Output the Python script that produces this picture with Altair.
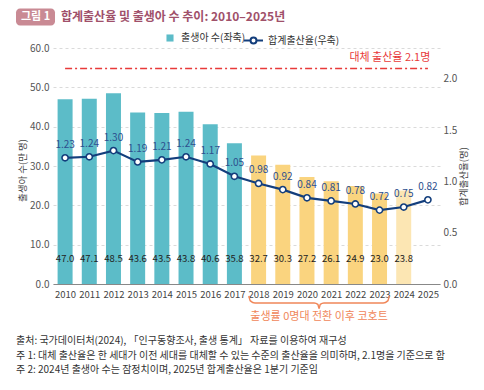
import altair as alt
import pandas as pd

# ---- data ----
years = list(range(2010, 2026))
births = [47.0, 47.1, 48.5, 43.6, 43.5, 43.8, 40.6, 35.8,
          32.7, 30.3, 27.2, 26.1, 24.9, 23.0, 23.8, None]
rates = [1.23, 1.24, 1.30, 1.19, 1.21, 1.24, 1.17, 1.05,
         0.98, 0.92, 0.84, 0.81, 0.78, 0.72, 0.75, 0.82]
bar_groups = ["출생아 수(좌축)"] * 8 + ["0명대"] * 6 + ["잠정치"] + [None]
replacement_rate = 2.1
left_ticks = [0, 10, 20, 30, 40, 50, 60]
right_ticks = [0, 0.5, 1.0, 1.5, 2.0]

# brace (annotation) under 2018-2023, in year / left-axis units
brace_x = [2017.6, 2017.66, 2017.85, 2020.3, 2020.45, 2020.5, 2020.55, 2020.7, 2023.15, 2023.34, 2023.4]
brace_y = [-3.0, -4.3, -4.85, -4.85, -5.2, -6.2, -5.2, -4.85, -4.85, -4.3, -3.0]

footnotes = [
    "출처: 국가데이터처(2024), 「인구동향조사, 출생 통계」 자료를 이용하여 재구성",
    "주 1: 대체 출산율은 한 세대가 이전 세대를 대체할 수 있는 수준의 출산율을 의미하며, 2.1명을 기준으로 함",
    "주 2: 2024년 출생아 수는 잠정치이며, 2025년 합계출산율은 1분기 기준임",
]

FONT = "Noto Sans CJK KR"
TEAL = "#5CBCC8"
YELLOW = "#FAD47F"
LIGHT = "#FCE6B3"
NAVY = "#133E7C"
RED = "#E83A3A"
ORANGE = "#F0875A"

bars_df = pd.DataFrame({"year": years, "births": births, "grp": bar_groups}).dropna()
bars_df["x0"] = bars_df["year"] - 0.31
bars_df["x1"] = bars_df["year"] + 0.31
rate_df = pd.DataFrame({"year": years, "rate": rates, "series": "합계출산율(우축)"})
brace_df = pd.DataFrame({"bx": brace_x, "by": brace_y})
one = alt.Data(values=[{}])

XS = alt.Scale(domain=[2009.5, 2025.5], nice=False, zero=False)
YL = alt.Scale(domain=[0, 60], nice=False)
YR = alt.Scale(domain=[0, 2.3], nice=False)

X_AXIS = alt.Axis(values=years, format="d", labelOverlap=False, labelFlush=False,
                  ticks=False, grid=False, domainColor="#888", labelColor="#444",
                  labelFontSize=9.5, labelPadding=5, title=None)
YL_AXIS = alt.Axis(values=left_ticks, format=".1f", domain=False, ticks=False, labelOverlap=False,
                   gridDash=[3, 3], gridColor="#DADADA", labelColor="#555", labelFontSize=10,
                   labelPadding=4, title="출생아 수(만 명)", titleX=-31, titleY=122, titleAngle=270,
                   titleBaseline="middle", titleAlign="center", titleFontSize=9.5,
                   titleFontWeight="normal", titleColor="#444")
YR_AXIS = alt.Axis(orient="right", values=right_ticks, format=".1f", domain=False, labelOverlap=False,
                   ticks=False, grid=False, labelColor="#555", labelFontSize=10,
                   labelPadding=3, title="합계출산율(명)", titleX=23, titleY=128, titleAngle=270,
                   titleBaseline="middle", titleAlign="center", titleFontSize=9.5,
                   titleFontWeight="normal", titleColor="#444")


def xf(field):
    return alt.X(field, scale=XS, axis=X_AXIS)


def xd(v):
    return alt.XDatum(v, scale=XS, axis=X_AXIS)


def ylf(field):
    return alt.Y(field, scale=YL, axis=YL_AXIS)


def yld(v):
    return alt.YDatum(v, scale=YL, axis=YL_AXIS)


def yrf(field):
    return alt.Y(field, scale=YR, axis=YR_AXIS)


def yrd(v):
    return alt.YDatum(v, scale=YR, axis=YR_AXIS)


bars = alt.Chart(bars_df).mark_bar().encode(
    x=xf("x0:Q"),
    x2="x1:Q",
    y=ylf("births:Q"),
    y2=alt.datum(0),
    color=alt.Color("grp:N", scale=alt.Scale(domain=["출생아 수(좌축)", "0명대", "잠정치"],
                                             range=[TEAL, YELLOW, LIGHT]),
                    legend=alt.Legend(values=["출생아 수(좌축)"], title=None, orient="none",
                                      legendX=112, legendY=-15, symbolType="square", symbolSize=50,
                                      labelFontSize=10, labelColor="#333", labelOffset=6)),
)

bar_labels = alt.Chart(bars_df).mark_text(fontSize=9.5, color="#222", font=FONT).encode(
    x=xf("year:Q"),
    y=yld(6.3),
    text=alt.Text("births:Q", format=".1f"),
)

brace = alt.Chart(brace_df).mark_line(color=ORANGE, strokeWidth=1.5, interpolate="monotone").encode(
    x=xf("bx:Q"), y=ylf("by:Q"), order="bx:Q"
)
brace_text = alt.Chart(one).mark_text(text="출생률 0명대 전환 이후 코호트", color=ORANGE,
                                      fontSize=11, font=FONT).encode(
    x=xd(2020.5), y=yld(-8.5)
)

left = alt.layer(bars, bar_labels, brace, brace_text)

line = alt.Chart(rate_df).mark_line(strokeWidth=2.2).encode(
    x=xf("year:Q"),
    y=yrf("rate:Q"),
    stroke=alt.Stroke("series:N", scale=alt.Scale(range=[NAVY]),
                      legend=alt.Legend(title=None, orient="none", legendX=193, legendY=-15,
                                        symbolType="M-1.5,0L-0.47,0M0.47,0L1.5,0M0.47,0A0.47,0.47,0,1,1,-0.47,0A0.47,0.47,0,1,1,0.47,0Z",
                                        symbolSize=160, symbolStrokeWidth=2, symbolFillColor="white",
                                        labelFontSize=10, labelColor="#333", labelOffset=7)),
)
points = alt.Chart(rate_df).mark_circle(color="white", stroke=NAVY, strokeWidth=1.6, size=38, opacity=1).encode(
    x=xf("year:Q"), y=yrf("rate:Q")
)
rate_labels = alt.Chart(rate_df).mark_text(fontSize=10, color="#2D4F8E", dy=-13, font=FONT).encode(
    x=xf("year:Q"), y=yrf("rate:Q"),
    text=alt.Text("rate:Q", format=".2f"),
)
ref_rule = alt.Chart(one).mark_rule(color=RED, strokeWidth=1.5, strokeDash=[7, 3, 2, 3]).encode(
    x=xd(2010), x2=alt.datum(2025), y=yrd(replacement_rate)
)
ref_text = alt.Chart(one).mark_text(text="대체 출산율 2.1명", color=RED, fontSize=11, align="right",
                                    dy=-11, font=FONT).encode(
    x=xd(2025.1), y=yrd(replacement_rate)
)

right = alt.layer(ref_rule, ref_text, line, points, rate_labels)

badge = alt.Chart(one).mark_rect(color="#C98A94", cornerRadius=4).encode(
    x=alt.value(-37), x2=alt.value(2), y=alt.value(-39.5), y2=alt.value(-22.5)
)
badge_text = alt.Chart(one).mark_text(text="그림 1", color="white", fontSize=11, fontWeight="bold",
                                      font=FONT).encode(x=alt.value(-17.5), y=alt.value(-31))
title = alt.Chart(one).mark_text(text="합계출산율 및 출생아 수 추이: 2010–2025년", color="#A0506A",
                                 fontSize=12, fontWeight="bold", align="left", font=FONT).encode(
    x=alt.value(8), y=alt.value(-31))
notes = alt.Chart(one).mark_text(text=footnotes, color="#333", fontSize=10, align="left",
                                 baseline="top", lineHeight=14.5, font=FONT).encode(
    x=alt.value(-37), y=alt.value(288))

chart = alt.layer(left, right, badge, badge_text, title, notes).resolve_scale(
    y="independent"
).properties(
    width=387, height=236,
    autosize=alt.AutoSizeParams(type="none"),
    padding={"left": 45, "top": 40, "right": 36, "bottom": 98},
).configure_view(stroke=None).configure_axis(labelFont=FONT, titleFont=FONT).configure_legend(
    labelFont=FONT
).configure_text(font=FONT)

chart.save("out.html", embed_options={"renderer": "svg", "actions": False})
